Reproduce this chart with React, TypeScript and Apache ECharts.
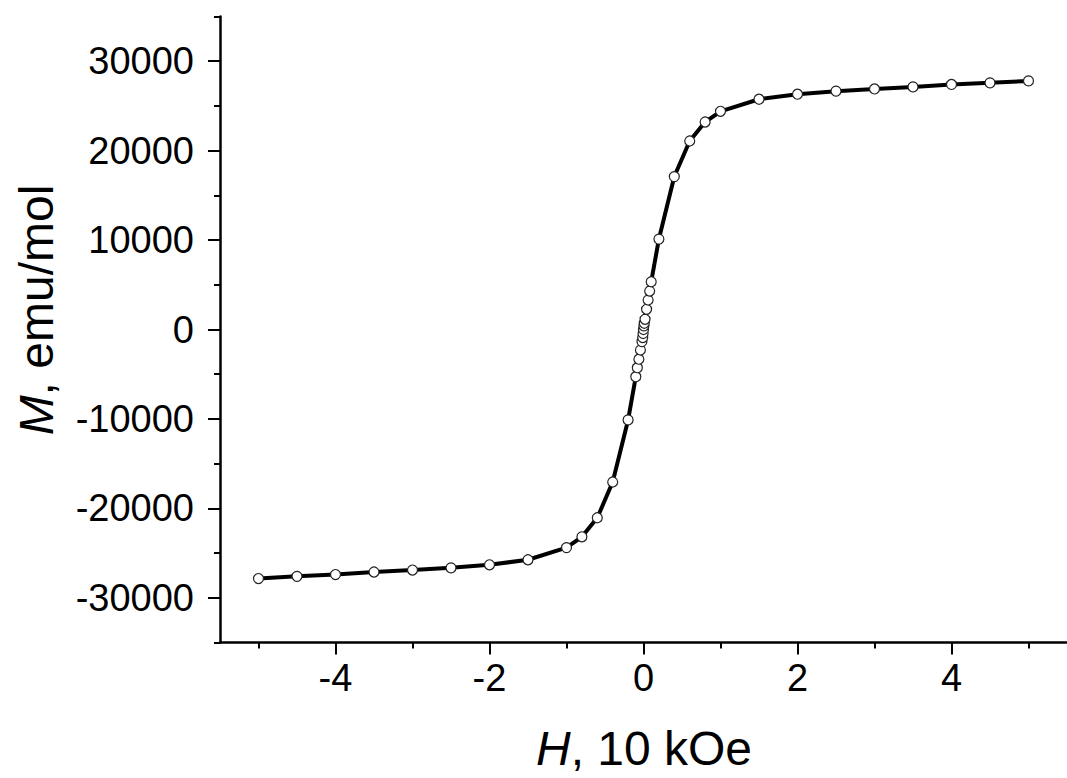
import React, { useEffect, useRef } from "react";
import * as echarts from "echarts";

// Field H (10 kOe) and magnetization M (emu/mol)
const fieldH: number[] = [
  -5, -4.5, -4, -3.5, -3, -2.5, -2, -1.5, -1, -0.8, -0.6, -0.4, -0.2,
  -0.1, -0.08, -0.06, -0.04, -0.02, -0.01, -0.005, 0, 0.005, 0.01,
  0.02, 0.04, 0.06, 0.08, 0.1, 0.2, 0.4, 0.6, 0.8, 1, 1.5, 2, 2.5, 3, 3.5, 4, 4.5, 5,
];
const magM: number[] = [
  -27850, -27600, -27400, -27120, -26900, -26650, -26310, -25750, -24390, -23180, -21050, -17050, -10110,
  -5280, -4270, -3320, -2290, -1350, -900, -450, 0, 400, 700,
  1140, 2260, 3300, 4300, 5340, 10110, 17100, 21080, 23200, 24400, 25750, 26310, 26650, 26900, 27130, 27400, 27580, 27800,
];

const xMajorTicks: number[] = [-4, -2, 0, 2, 4];
const xMinorTicks: number[] = [-5, -3, -1, 1, 3, 5];
const yMajorTicks: number[] = [-30000, -20000, -10000, 0, 10000, 20000, 30000];
const yMinorTicks: number[] = [-35000, -25000, -15000, -5000, 5000, 15000, 25000, 35000];

const xTitle = "{i|H}, 10 kOe";
const yTitle = "{i|M}, emu/mol";

const FONT = "'Liberation Sans', Arial, sans-serif";

export default function App() {
  const ref = useRef<HTMLDivElement>(null);

  useEffect(() => {
    if (!ref.current) return;
    const chart = echarts.init(ref.current, undefined, { renderer: "svg" });
    const axisLine = { show: true, onZero: false, lineStyle: { color: "#000", width: 2.5 } };
    const hiddenLine = { show: false, onZero: false };
    const fmt = (v: number) => String(v);
    const xCommon = { type: "value", min: -5.5, max: 5.5, position: "bottom", splitLine: { show: false } };
    const yCommon = { type: "value", min: -35000, max: 35000, position: "left", splitLine: { show: false } };
    chart.setOption({
      animation: false,
      backgroundColor: "#fff",
      grid: { left: 220, top: 16.5, width: 853, height: 626, containLabel: false },
      xAxis: [
        {
          ...xCommon,
          axisLine,
          axisTick: { show: true, customValues: xMajorTicks, length: 12, lineStyle: { color: "#000", width: 2 } },
          axisLabel: { show: true, customValues: xMajorTicks, formatter: fmt, fontSize: 38, color: "#000", fontFamily: FONT, margin: 16 },
        },
        {
          ...xCommon,
          axisLine: hiddenLine,
          axisTick: { show: true, customValues: xMinorTicks, length: 6, lineStyle: { color: "#000", width: 2 } },
          axisLabel: { show: false },
        },
      ],
      yAxis: [
        {
          ...yCommon,
          axisLine,
          axisTick: { show: true, customValues: yMajorTicks, length: 12, lineStyle: { color: "#000", width: 2 } },
          axisLabel: { show: true, customValues: yMajorTicks, formatter: fmt, fontSize: 38, color: "#000", fontFamily: FONT, margin: 26 },
        },
        {
          ...yCommon,
          axisLine: hiddenLine,
          axisTick: { show: true, customValues: yMinorTicks, length: 6, lineStyle: { color: "#000", width: 2 } },
          axisLabel: { show: false },
        },
      ],
      series: [
        {
          type: "line",
          xAxisIndex: 0,
          yAxisIndex: 0,
          data: fieldH.map((h, i) => [h, magM[i]]),
          symbol: "circle",
          symbolSize: 10,
          showAllSymbol: true,
          lineStyle: { color: "#000", width: 4 },
          itemStyle: { color: "#fff", borderColor: "#222", borderWidth: 1.2 },
        },
      ],
      graphic: [
        {
          type: "text",
          x: 644,
          y: 748,
          style: {
            text: xTitle,
            fontSize: 48,
            fontFamily: FONT,
            fill: "#000",
            align: "center",
            verticalAlign: "middle",
            rich: { i: { fontStyle: "italic", fontSize: 48, fontFamily: FONT, fill: "#000" } },
          },
        },
        {
          type: "text",
          x: 36,
          y: 310,
          rotation: Math.PI / 2,
          style: {
            text: yTitle,
            fontSize: 48,
            fontFamily: FONT,
            fill: "#000",
            align: "center",
            verticalAlign: "middle",
            rich: { i: { fontStyle: "italic", fontSize: 48, fontFamily: FONT, fill: "#000" } },
          },
        },
      ],
    });
    return () => chart.dispose();
  }, []);

  return (
    <div
      ref={ref}
      style={{ position: "fixed", left: 0, top: 0, width: 1067, height: 778, background: "#fff" }}
    />
  );
}
